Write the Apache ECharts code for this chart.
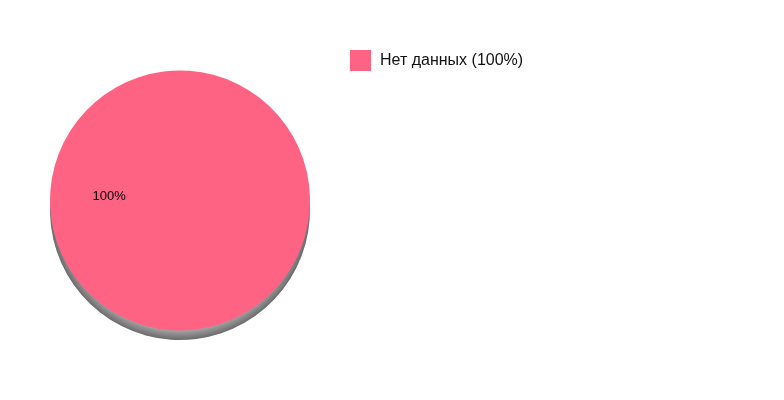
<!DOCTYPE html>
<html>
<head>
<meta charset="utf-8">
<script src="https://cdn.jsdelivr.net/npm/echarts@6/dist/echarts.min.js"></script>
<style>
html,body{margin:0;padding:0;background:#fff;}
#chart{width:784px;height:400px;}
</style>
</head>
<body>
<div id="chart"></div>
<script>
const categories = ['Нет данных'];
const values = [100];
const colors = ['#ff6384'];

const total = values.reduce((a, b) => a + b, 0);
const pct = {};
categories.forEach((c, i) => { pct[c] = Math.round(values[i] / total * 100); });

const chart = echarts.init(document.getElementById('chart'), null, {renderer: 'canvas'});
chart.setOption({
  animation: false,
  color: colors,
  legend: {
    data: categories,
    left: 350,
    top: 50,
    orient: 'vertical',
    padding: 0,
    itemWidth: 21,
    itemHeight: 21,
    icon: 'rect',
    formatter: name => name + ' (' + pct[name] + '%)',
    textStyle: {
      fontFamily: 'Liberation Sans, Arial, sans-serif',
      fontSize: 16,
      color: '#111',
      padding: [1, 0, 0, 4]
    }
  },
  series: [
    {
      type: 'pie',
      silent: true,
      center: [180, 210],
      radius: 130,
      startAngle: 356,
      label: {show: false},
      labelLine: {show: false},
      itemStyle: {
        color: new echarts.graphic.RadialGradient(0.5, 0.5, 0.5, [
          {offset: 0.92, color: '#a8a8a8'},
          {offset: 1, color: '#6a6a6a'}
        ])
      },
      data: categories.map((c, i) => ({name: c + '_shadow', value: values[i]}))
    },
    {
      type: 'pie',
      center: [180, 200.5],
      radius: 130,
      startAngle: 356,
      itemStyle: {borderWidth: 0},
      label: {
        show: true,
        position: 'inside',
        formatter: '{d}%',
        color: '#000',
        fontSize: 13,
        fontFamily: 'Liberation Sans, Arial, sans-serif',
        offset: [-3, 1]
      },
      labelLine: {show: false},
      emphasis: {disabled: true},
      data: categories.map((c, i) => ({name: c, value: values[i]}))
    }
  ]
});
</script>
</body>
</html>
